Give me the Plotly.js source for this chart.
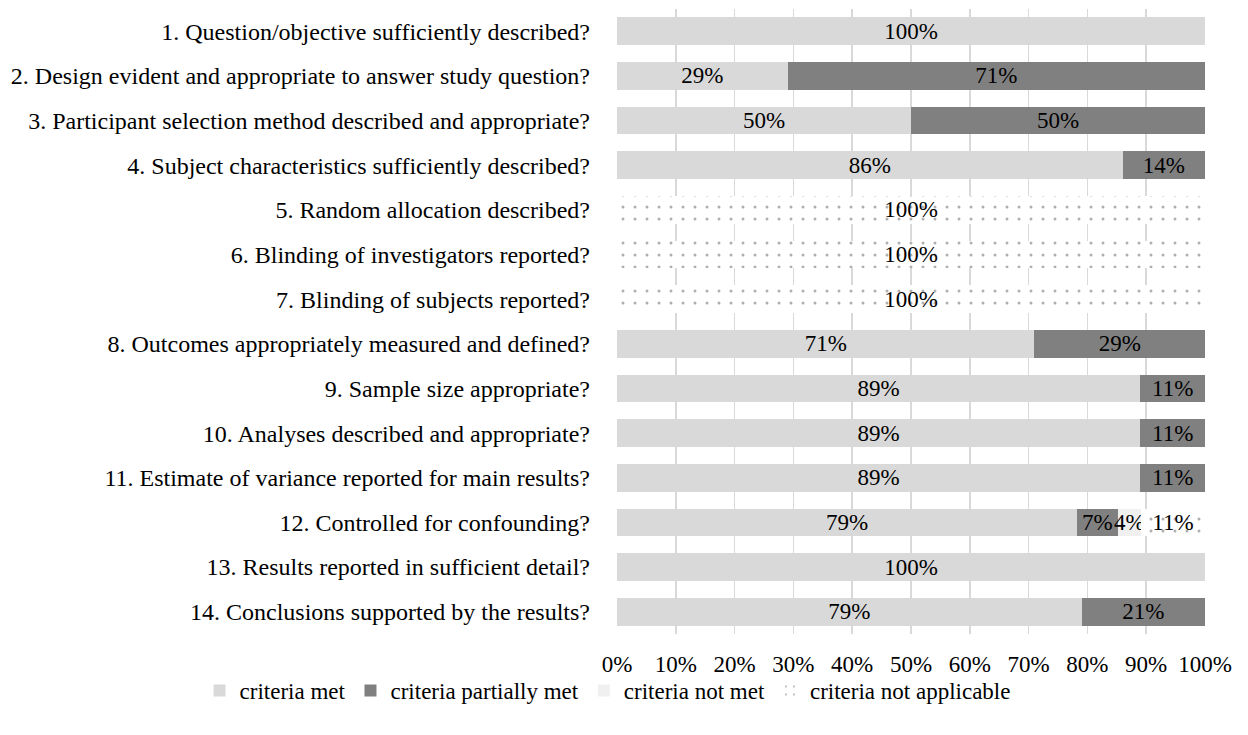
<!DOCTYPE html>
<html>
<head>
<meta charset="utf-8">
<script src="https://cdn.plot.ly/plotly-3.0.1.min.js"></script>
<style>body{margin:0;padding:0;background:#fff;} #chart{width:1248px;height:735px;}</style>
</head>
<body>
<div id="chart"></div>
<script>
const categories = [
  "1. Question/objective sufficiently described?",
  "2. Design evident and appropriate to answer study question?",
  "3. Participant selection method described and appropriate?",
  "4. Subject characteristics sufficiently described?",
  "5. Random allocation described?",
  "6. Blinding of investigators reported?",
  "7. Blinding of subjects reported?",
  "8. Outcomes appropriately measured and defined?",
  "9. Sample size appropriate?",
  "10. Analyses described and appropriate?",
  "11. Estimate of variance reported for main results?",
  "12. Controlled for confounding?",
  "13. Results reported in sufficient detail?",
  "14. Conclusions supported by the results?"
];
const criteriaMet          = [100, 29, 50, 86, 0, 0, 0, 71, 89, 89, 89, 79, 100, 79];
const criteriaPartiallyMet = [0, 71, 50, 14, 0, 0, 0, 29, 11, 11, 11, 7, 0, 21];
const criteriaNotMet       = [0, 0, 0, 0, 0, 0, 0, 0, 0, 0, 0, 4, 0, 0];
const criteriaNotApplicable= [0, 0, 0, 0, 100, 100, 100, 0, 0, 0, 0, 11, 0, 0];
const xTickVals = [0,10,20,30,40,50,60,70,80,90,100];

const FONT = "Liberation Serif, Times New Roman, serif";
const lbl = arr => arr.map(v => v > 0 ? v + "%" : "");

function mk(name, vals, marker) {
  return {
    type: "bar", orientation: "h", name: name,
    y: categories, x: vals, text: lbl(vals),
    textposition: "inside", insidetextanchor: "middle",
    constraintext: "none", textangle: 0,
    textfont: {family: FONT, size: 23, color: "#000"},
    marker: marker, hoverinfo: "skip"
  };
}
const data = [
  mk("criteria met", criteriaMet, {color: "#d9d9d9"}),
  mk("criteria partially met", criteriaPartiallyMet, {color: "#808080"}),
  mk("criteria not met", criteriaNotMet, {color: "#f0f0f0"}),
  mk("criteria not applicable", criteriaNotApplicable, {
    color: "#ffffff",
    pattern: {shape: ".", bgcolor: "#ffffff", fgcolor: "#606060", size: 12, solidity: 0.05, fillmode: "overlay"}
  })
];
const layout = {
  width: 1248, height: 735,
  margin: {l: 617, r: 43, t: 9, b: 101},
  barmode: "stack", barnorm: "percent", bargap: 0.38,
  paper_bgcolor: "#fff", plot_bgcolor: "#fff",
  font: {family: FONT, size: 23, color: "#000"},
  xaxis: {
    range: [0, 100], tickvals: xTickVals, ticktext: xTickVals.map(v => v + "%"),
    showgrid: true, gridcolor: "#d9d9d9", gridwidth: 1.5,
    zeroline: false, showline: false, ticks: "", ticklabelstandoff: 14,
    tickfont: {family: FONT, size: 23, color: "#000"}, fixedrange: true, automargin: false
  },
  yaxis: {
    autorange: "reversed", showgrid: false, zeroline: false, showline: false,
    ticks: "", ticklabelstandoff: 26, automargin: false,
    tickfont: {family: FONT, size: 24, color: "#000"}
  },
  showlegend: true,
  legend: {
    orientation: "h", bgcolor: "rgba(0,0,0,0)",
    x: -0.71, xanchor: "left", y: -0.056, yanchor: "top",
    font: {family: FONT, size: 23, color: "#000"},
    traceorder: "normal", itemwidth: 30
  }
};
Plotly.newPlot("chart", data, layout, {staticPlot: true, displayModeBar: false});
</script>
</body>
</html>
